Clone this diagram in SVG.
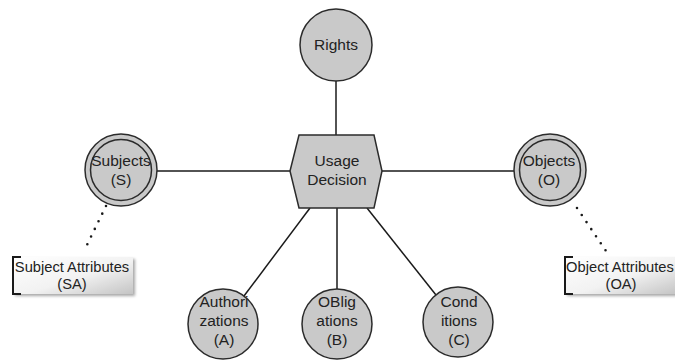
<svg xmlns="http://www.w3.org/2000/svg" width="675" height="360" viewBox="0 0 675 360">
<defs>
<linearGradient id="attrGrad" x1="0" y1="0" x2="1" y2="1">
<stop offset="0" stop-color="#ffffff"/>
<stop offset="0.55" stop-color="#f2f2f2"/>
<stop offset="1" stop-color="#c4c4c4"/>
</linearGradient>
<filter id="shadow" x="-10%" y="-10%" width="130%" height="140%">
<feGaussianBlur in="SourceAlpha" stdDeviation="1.5"/>
<feOffset dx="2" dy="2" result="b"/>
<feComponentTransfer><feFuncA type="linear" slope="0.35"/></feComponentTransfer>
<feMerge><feMergeNode/><feMergeNode in="SourceGraphic"/></feMerge>
</filter>
</defs>
<style>
.node{fill:#c9c9c9;stroke:#2b2b2b;stroke-width:1.5}
.edge{stroke:#1a1a1a;stroke-width:1.5;fill:none}
.dots{stroke:#1a1a1a;stroke-width:2.6;stroke-linecap:round;stroke-dasharray:0 8.5;fill:none}
.lbl{font-family:"Liberation Sans",Arial,sans-serif;font-size:15.5px;fill:#222;text-anchor:middle}
.attr{font-size:14.7px}
.bracket{stroke:#1a1a1a;stroke-width:2;fill:none}
</style>
<rect width="675" height="360" fill="#ffffff"/>
<g id="connectors">
<line class="edge" x1="336" y1="81" x2="336" y2="135"/>
<line class="edge" x1="157" y1="171" x2="290" y2="171"/>
<line class="edge" x1="382" y1="171" x2="514" y2="171"/>
<line class="edge" x1="310" y1="208" x2="244" y2="296"/>
<line class="edge" x1="337" y1="208" x2="337" y2="289"/>
<line class="edge" x1="367" y1="208" x2="436" y2="295"/>
<line class="dots" x1="106" y1="206" x2="84" y2="251"/>
<line class="dots" x1="577" y1="208" x2="606" y2="251"/>
</g>
<g id="rights">
<circle class="node" cx="336" cy="45" r="36"/>
<text class="lbl" x="336" y="50">Rights</text>
</g>
<g id="usage-decision">
<polygon class="node" points="299,135 374,135 382,171 374,208 299,208 290,171"/>
<text class="lbl" x="337" y="166">Usage</text>
<text class="lbl" x="337" y="185">Decision</text>
</g>
<g id="subjects">
<circle class="node" cx="121" cy="170" r="36"/>
<circle class="node" cx="121" cy="170" r="30.5"/>
<text class="lbl" x="121" y="166">Subjects</text>
<text class="lbl" x="121" y="185">(S)</text>
</g>
<g id="objects">
<circle class="node" cx="550" cy="170" r="36"/>
<circle class="node" cx="550" cy="170" r="30.5"/>
<text class="lbl" x="549" y="166">Objects</text>
<text class="lbl" x="549" y="185">(O)</text>
</g>
<g id="subject-attributes">
<rect x="13" y="257" width="120" height="37" fill="url(#attrGrad)" filter="url(#shadow)"/>
<path class="bracket" d="M21,257 H13 V294 H21"/>
<text class="lbl attr" x="72" y="272">Subject Attributes</text>
<text class="lbl attr" x="72" y="289">(SA)</text>
</g>
<g id="object-attributes">
<rect x="565" y="257" width="112" height="37" fill="url(#attrGrad)" filter="url(#shadow)"/>
<path class="bracket" d="M573,257 H565 V294 H573"/>
<text class="lbl attr" x="620" y="272">Object Attributes</text>
<text class="lbl attr" x="621" y="289">(OA)</text>
</g>
<g id="authorizations">
<circle class="node" cx="223" cy="324" r="35"/>
<text class="lbl" x="224" y="307">Authori</text>
<text class="lbl" x="224" y="326">zations</text>
<text class="lbl" x="224" y="345">(A)</text>
</g>
<g id="obligations">
<circle class="node" cx="337" cy="324" r="35"/>
<text class="lbl" x="337" y="307">OBlig</text>
<text class="lbl" x="337" y="326">ations</text>
<text class="lbl" x="337" y="345">(B)</text>
</g>
<g id="conditions">
<circle class="node" cx="458" cy="322" r="35"/>
<text class="lbl" x="459" y="307">Cond</text>
<text class="lbl" x="459" y="326">itions</text>
<text class="lbl" x="459" y="345">(C)</text>
</g>
</svg>
